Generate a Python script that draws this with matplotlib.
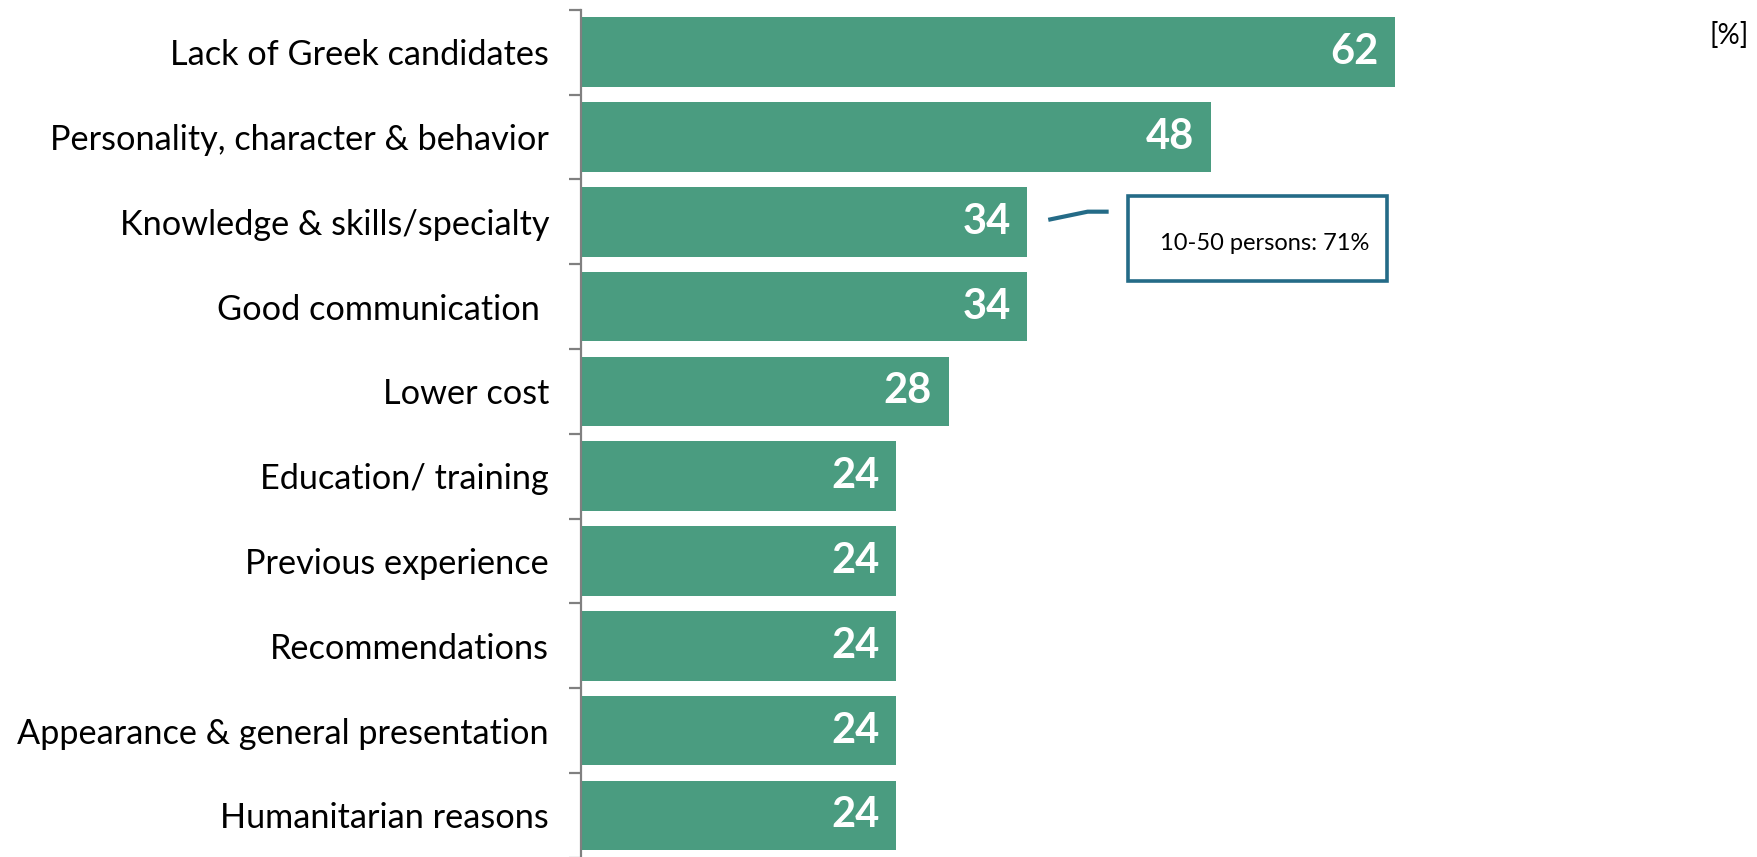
import numpy as np
import matplotlib
matplotlib.use("Agg")
import matplotlib.pyplot as plt

plt.rcParams['font.family'] = ['Lato', 'DejaVu Sans']

# reasons for hiring, share of companies [%]
reasons = ['Lack of Greek candidates', 'Personality, character & behavior',
           'Knowledge & skills/specialty', 'Good communication ', 'Lower cost',
           'Education/ training', 'Previous experience', 'Recommendations',
           'Appearance & general presentation', 'Humanitarian reasons']
shares = [62, 48, 34, 34, 28, 24, 24, 24, 24, 24]

callout_text = '10-50 persons: 71%'
callout_row = 2

bar_color = '#4a9c80'
note_color = '#246b87'

fig = plt.figure(figsize=(17.58, 8.57), dpi=100)
ax = fig.add_axes([0.3305, -0.001, 0.657, 0.9895])

y = np.arange(len(reasons))
bars = ax.barh(y, shares, height=0.82, color=bar_color)
ax.set_ylim(len(reasons) - 0.5, -0.5)
ax.set_xlim(0, 88)

# value labels inside the bar ends
for b, v in zip(bars, shares):
    ax.annotate(str(v), xy=(v, b.get_y() + b.get_height() / 2),
                xytext=(-12, 0), textcoords='offset points',
                ha='right', va='center', color='white',
                fontsize=30, fontweight='bold')

# category labels at bar centres, tick marks at the boundaries
ax.set_yticks(y)
ax.set_yticklabels(reasons, fontsize=24.7)
ax.tick_params(axis='y', which='major', length=0, pad=23)
ax.set_yticks(np.arange(len(reasons) + 1) - 0.5, minor=True)
ax.tick_params(axis='y', which='minor', length=9, width=1.6, color='#808080')

for s in ['top', 'right', 'bottom']:
    ax.spines[s].set_visible(False)
ax.spines['left'].set_color('#808080')
ax.spines['left'].set_linewidth(1.6)
ax.set_xticks([])

# callout for the third bar
v = shares[callout_row]
ax.plot([v + 1.6, v + 4.6, v + 6.2],
        [callout_row - 0.024, callout_row - 0.12, callout_row - 0.12],
        color=note_color, lw=3, solid_capstyle='butt', clip_on=False)
box = plt.Rectangle((v + 7.7, callout_row - 0.3), 19.7, 1.0,
                    facecolor='white', edgecolor=note_color, lw=2.6,
                    clip_on=False)
ax.add_patch(box)
ax.text(v + 10.1, callout_row + 0.26, callout_text, fontsize=17,
        ha='left', va='center', color='black')

fig.text(0.995, 0.958, '[%]', fontsize=20, ha='right', va='center')

fig.savefig('out.png', dpi=100)
